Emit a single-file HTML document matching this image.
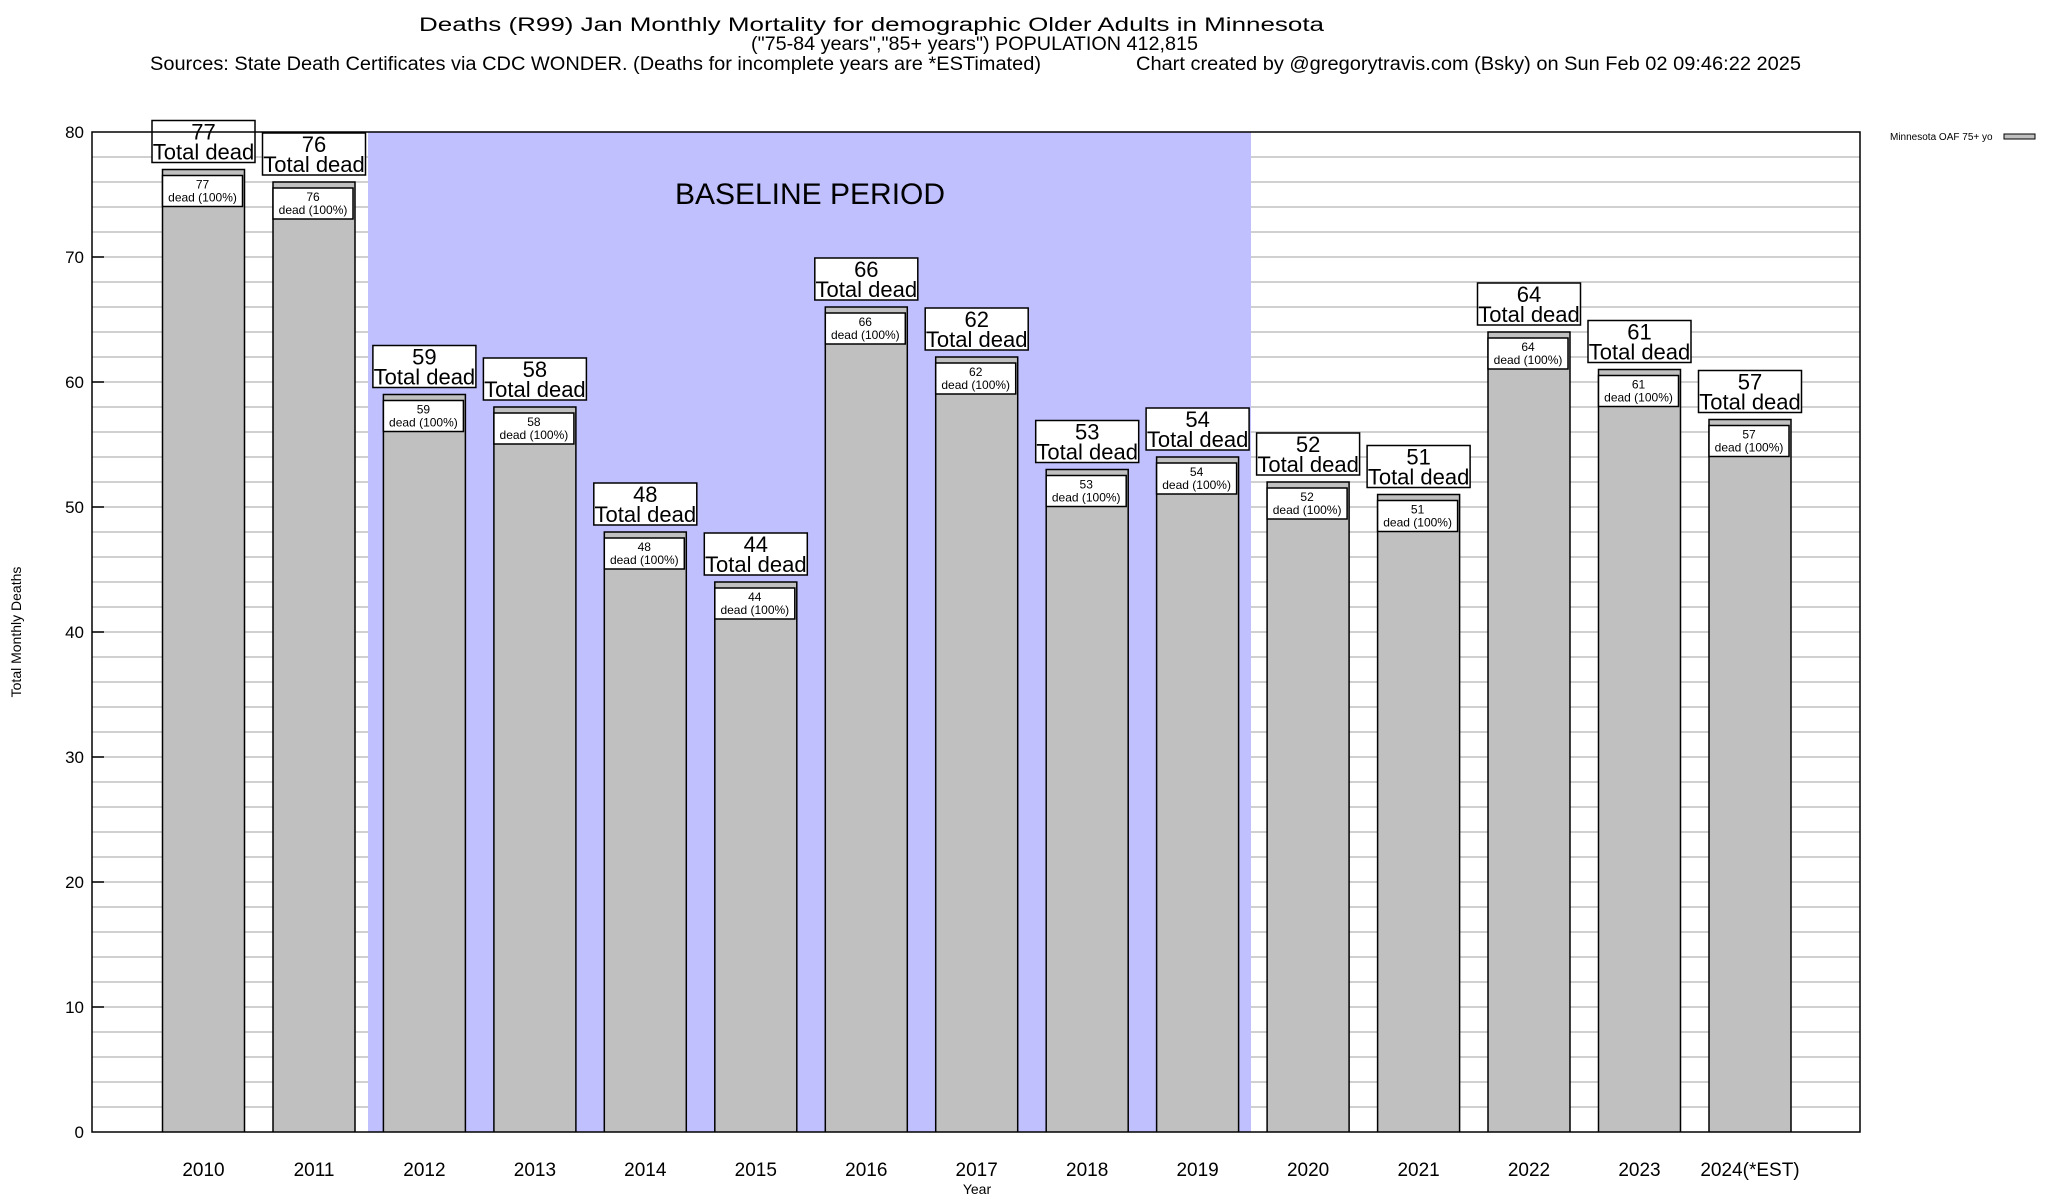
<!DOCTYPE html>
<html><head><meta charset="utf-8"><style>html,body{margin:0;padding:0;background:#fff;overflow:hidden;width:2048px;height:1200px}svg{display:block}text{font-family:"Liberation Sans",sans-serif;fill:#000}</style></head>
<body>
<svg width="2048" height="1200" viewBox="0 0 2048 1200" xmlns="http://www.w3.org/2000/svg">
<rect width="2048" height="1200" fill="#fff"/>
<text x="419" y="31" font-size="19" textLength="905" lengthAdjust="spacingAndGlyphs">Deaths (R99) Jan Monthly Mortality for demographic Older Adults in Minnesota</text>
<text x="751" y="50" font-size="19" textLength="447" lengthAdjust="spacingAndGlyphs">("75-84 years","85+ years") POPULATION 412,815</text>
<text x="150" y="70" font-size="19" textLength="891" lengthAdjust="spacingAndGlyphs">Sources: State Death Certificates via CDC WONDER. (Deaths for incomplete years are *ESTimated)</text>
<text x="1136" y="70" font-size="19" textLength="665" lengthAdjust="spacingAndGlyphs">Chart created by @gregorytravis.com (Bsky) on Sun Feb 02 09:46:22 2025</text>
<g stroke="#b4b4b4" stroke-width="1.3">
<line x1="92" x2="1860" y1="157" y2="157"/><line x1="92" x2="1860" y1="182" y2="182"/><line x1="92" x2="1860" y1="207" y2="207"/><line x1="92" x2="1860" y1="232" y2="232"/><line x1="92" x2="1860" y1="257" y2="257"/><line x1="92" x2="1860" y1="282" y2="282"/><line x1="92" x2="1860" y1="307" y2="307"/><line x1="92" x2="1860" y1="332" y2="332"/><line x1="92" x2="1860" y1="357" y2="357"/><line x1="92" x2="1860" y1="382" y2="382"/><line x1="92" x2="1860" y1="407" y2="407"/><line x1="92" x2="1860" y1="432" y2="432"/><line x1="92" x2="1860" y1="457" y2="457"/><line x1="92" x2="1860" y1="482" y2="482"/><line x1="92" x2="1860" y1="507" y2="507"/><line x1="92" x2="1860" y1="532" y2="532"/><line x1="92" x2="1860" y1="557" y2="557"/><line x1="92" x2="1860" y1="582" y2="582"/><line x1="92" x2="1860" y1="607" y2="607"/><line x1="92" x2="1860" y1="632" y2="632"/><line x1="92" x2="1860" y1="657" y2="657"/><line x1="92" x2="1860" y1="682" y2="682"/><line x1="92" x2="1860" y1="707" y2="707"/><line x1="92" x2="1860" y1="732" y2="732"/><line x1="92" x2="1860" y1="757" y2="757"/><line x1="92" x2="1860" y1="782" y2="782"/><line x1="92" x2="1860" y1="807" y2="807"/><line x1="92" x2="1860" y1="832" y2="832"/><line x1="92" x2="1860" y1="857" y2="857"/><line x1="92" x2="1860" y1="882" y2="882"/><line x1="92" x2="1860" y1="907" y2="907"/><line x1="92" x2="1860" y1="932" y2="932"/><line x1="92" x2="1860" y1="957" y2="957"/><line x1="92" x2="1860" y1="982" y2="982"/><line x1="92" x2="1860" y1="1007" y2="1007"/><line x1="92" x2="1860" y1="1032" y2="1032"/><line x1="92" x2="1860" y1="1057" y2="1057"/><line x1="92" x2="1860" y1="1082" y2="1082"/><line x1="92" x2="1860" y1="1107" y2="1107"/>
</g>
<rect x="368" y="132" width="883" height="1000" fill="#c0c0ff"/>
<g stroke="#000" stroke-width="1.5">
<line x1="92" x2="104" y1="257" y2="257"/><line x1="92" x2="104" y1="382" y2="382"/><line x1="92" x2="104" y1="507" y2="507"/><line x1="92" x2="104" y1="632" y2="632"/><line x1="92" x2="104" y1="757" y2="757"/><line x1="92" x2="104" y1="882" y2="882"/><line x1="92" x2="104" y1="1007" y2="1007"/>
</g>
<text x="810" y="204" font-size="30" text-anchor="middle">BASELINE PERIOD</text>
<g font-size="17" text-anchor="end">
<text x="84" y="138">80</text><text x="84" y="263">70</text><text x="84" y="388">60</text><text x="84" y="513">50</text><text x="84" y="638">40</text><text x="84" y="763">30</text><text x="84" y="888">20</text><text x="84" y="1013">10</text><text x="84" y="1138">0</text>
</g>
<defs>
<g id="bar"><rect x="-41" y="0" width="82" height="1000" fill="#c0c0c0" stroke="#000" stroke-width="1.5"/><rect x="-41" y="6" width="80" height="31" fill="#fff" stroke="#000" stroke-width="1.5"/><rect x="-51.5" y="-49" width="103" height="42" fill="#fff" stroke="#000" stroke-width="1.5"/></g>
</defs>
<svg x="0" y="0" width="2048" height="1132" overflow="hidden">
<use href="#bar" x="203.5" y="169.5"/><use href="#bar" x="314" y="182"/><use href="#bar" x="424.4" y="394.5"/><use href="#bar" x="534.9" y="407"/><use href="#bar" x="645.3" y="532"/><use href="#bar" x="755.8" y="582"/><use href="#bar" x="866.3" y="307"/><use href="#bar" x="976.7" y="357"/><use href="#bar" x="1087.2" y="469.5"/><use href="#bar" x="1197.6" y="457"/><use href="#bar" x="1308.1" y="482"/><use href="#bar" x="1418.6" y="494.5"/><use href="#bar" x="1529" y="332"/><use href="#bar" x="1639.5" y="369.5"/><use href="#bar" x="1750" y="419.5"/>
</svg>
<g text-anchor="middle">
<g transform="translate(203.5,169.5)"><text y="-30" font-size="22">77</text><text y="-10" font-size="22">Total dead</text><text x="-1" y="19" font-size="12">77</text><text x="-1" y="32" font-size="12">dead (100%)</text></g>
<g transform="translate(314,182)"><text y="-30" font-size="22">76</text><text y="-10" font-size="22">Total dead</text><text x="-1" y="19" font-size="12">76</text><text x="-1" y="32" font-size="12">dead (100%)</text></g>
<g transform="translate(424.4,394.5)"><text y="-30" font-size="22">59</text><text y="-10" font-size="22">Total dead</text><text x="-1" y="19" font-size="12">59</text><text x="-1" y="32" font-size="12">dead (100%)</text></g>
<g transform="translate(534.9,407)"><text y="-30" font-size="22">58</text><text y="-10" font-size="22">Total dead</text><text x="-1" y="19" font-size="12">58</text><text x="-1" y="32" font-size="12">dead (100%)</text></g>
<g transform="translate(645.3,532)"><text y="-30" font-size="22">48</text><text y="-10" font-size="22">Total dead</text><text x="-1" y="19" font-size="12">48</text><text x="-1" y="32" font-size="12">dead (100%)</text></g>
<g transform="translate(755.8,582)"><text y="-30" font-size="22">44</text><text y="-10" font-size="22">Total dead</text><text x="-1" y="19" font-size="12">44</text><text x="-1" y="32" font-size="12">dead (100%)</text></g>
<g transform="translate(866.3,307)"><text y="-30" font-size="22">66</text><text y="-10" font-size="22">Total dead</text><text x="-1" y="19" font-size="12">66</text><text x="-1" y="32" font-size="12">dead (100%)</text></g>
<g transform="translate(976.7,357)"><text y="-30" font-size="22">62</text><text y="-10" font-size="22">Total dead</text><text x="-1" y="19" font-size="12">62</text><text x="-1" y="32" font-size="12">dead (100%)</text></g>
<g transform="translate(1087.2,469.5)"><text y="-30" font-size="22">53</text><text y="-10" font-size="22">Total dead</text><text x="-1" y="19" font-size="12">53</text><text x="-1" y="32" font-size="12">dead (100%)</text></g>
<g transform="translate(1197.6,457)"><text y="-30" font-size="22">54</text><text y="-10" font-size="22">Total dead</text><text x="-1" y="19" font-size="12">54</text><text x="-1" y="32" font-size="12">dead (100%)</text></g>
<g transform="translate(1308.1,482)"><text y="-30" font-size="22">52</text><text y="-10" font-size="22">Total dead</text><text x="-1" y="19" font-size="12">52</text><text x="-1" y="32" font-size="12">dead (100%)</text></g>
<g transform="translate(1418.6,494.5)"><text y="-30" font-size="22">51</text><text y="-10" font-size="22">Total dead</text><text x="-1" y="19" font-size="12">51</text><text x="-1" y="32" font-size="12">dead (100%)</text></g>
<g transform="translate(1529,332)"><text y="-30" font-size="22">64</text><text y="-10" font-size="22">Total dead</text><text x="-1" y="19" font-size="12">64</text><text x="-1" y="32" font-size="12">dead (100%)</text></g>
<g transform="translate(1639.5,369.5)"><text y="-30" font-size="22">61</text><text y="-10" font-size="22">Total dead</text><text x="-1" y="19" font-size="12">61</text><text x="-1" y="32" font-size="12">dead (100%)</text></g>
<g transform="translate(1750,419.5)"><text y="-30" font-size="22">57</text><text y="-10" font-size="22">Total dead</text><text x="-1" y="19" font-size="12">57</text><text x="-1" y="32" font-size="12">dead (100%)</text></g>
</g>
<rect x="92" y="132" width="1768" height="1000" fill="none" stroke="#000" stroke-width="1.5"/>
<g font-size="19" text-anchor="middle">
<text x="203.5" y="1176">2010</text><text x="314" y="1176">2011</text><text x="424.4" y="1176">2012</text><text x="534.9" y="1176">2013</text><text x="645.3" y="1176">2014</text><text x="755.8" y="1176">2015</text><text x="866.3" y="1176">2016</text><text x="976.7" y="1176">2017</text><text x="1087.2" y="1176">2018</text><text x="1197.6" y="1176">2019</text><text x="1308.1" y="1176">2020</text><text x="1418.6" y="1176">2021</text><text x="1529" y="1176">2022</text><text x="1639.5" y="1176">2023</text><text x="1750" y="1176">2024(*EST)</text>
</g>
<text x="977" y="1194" font-size="14" text-anchor="middle">Year</text>
<text transform="translate(21,632) rotate(-90)" font-size="14" text-anchor="middle">Total Monthly Deaths</text>
<text x="1890" y="140" font-size="10">Minnesota OAF 75+ yo</text>
<rect x="2004" y="134" width="31" height="5" fill="#c0c0c0" stroke="#000" stroke-width="1"/>
</svg>
</body></html>
